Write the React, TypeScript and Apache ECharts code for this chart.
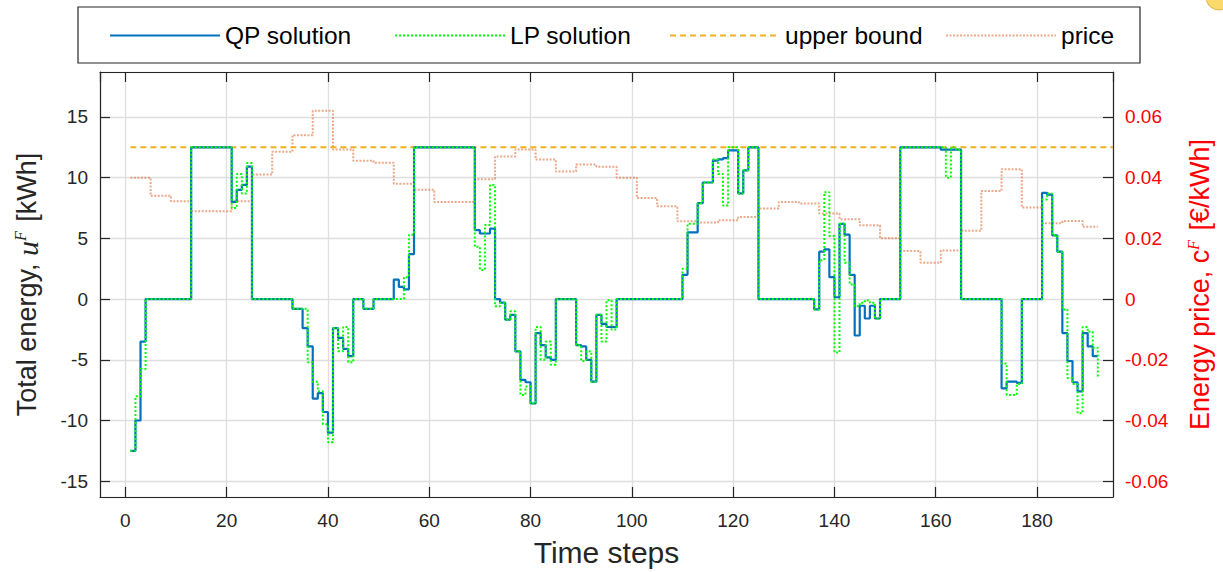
import React, { useEffect, useRef } from "react";
import * as echarts from "echarts";

// QP solution, time steps 1..192 [kWh]
const qpSolution = [
  -12.5, -10, -3.5, 0, 0, 0, 0, 0, 0, 0, 0, 0,
  12.5, 12.5, 12.5, 12.5, 12.5, 12.5, 12.5, 12.5,
  8.0, 9.0, 9.4, 10.9,
  0, 0, 0, 0, 0, 0, 0, 0,
  -0.8, -0.8, -2.4, -3.9, -8.2, -7.75, -9.3, -11.0, -2.4, -3.2, -4.1, -4.7,
  0, 0, -0.8, -0.8,
  0, 0, 0, 0,
  1.6, 1.0, 0.8, 3.7,
  12.5, 12.5, 12.5, 12.5, 12.5, 12.5, 12.5, 12.5, 12.5, 12.5, 12.5, 12.5,
  5.67, 5.4, 5.4, 5.8,
  0, -0.3, -1.7, -1.3, -4.3, -6.65, -6.85, -8.6, -2.8, -3.8, -4.8, -5.0,
  0, 0, 0, 0,
  -3.8, -3.9, -5.0, -6.8, -1.3, -2.05, -2.3, -2.3,
  0, 0, 0, 0, 0, 0, 0, 0, 0, 0, 0, 0, 0,
  2.0, 5.5, 5.5, 7.9, 9.6, 9.6, 11.4, 11.5, 11.6, 12.25, 12.25, 8.7, 10.6, 12.5, 12.5,
  0, 0, 0, 0, 0, 0, 0, 0, 0, 0, 0,
  -0.85, 3.9, 4.1, 1.8, 0.15, 6.2, 5.3, 2.0, -3.0, -0.55, -1.6, -0.55, -1.6,
  0, 0, 0, 0,
  12.5, 12.5, 12.5, 12.5, 12.5, 12.5, 12.5, 12.5,
  12.3, 12.3, 12.3, 12.3,
  0, 0, 0, 0, 0, 0, 0, 0,
  -7.35, -6.8, -6.8, -6.9,
  0, 0, 0, 0,
  8.75, 8.6, 5.25, 3.9, -2.8, -5.1, -6.85, -7.6, -2.8, -3.9, -4.7, -4.7,
];

// LP solution, time steps 1..192 [kWh]
const lpSolution = [
  -12.5, -8.0, -5.75, 0, 0, 0, 0, 0, 0, 0, 0, 0,
  12.5, 12.5, 12.5, 12.5, 12.5, 12.5, 12.5, 12.5,
  7.5, 10.3, 8.7, 11.2,
  0, 0, 0, 0, 0, 0, 0, 0,
  -0.8, -0.8, -0.8, -5.2, -6.8, -7.6, -10.3, -11.8, -2.4, -4.3, -2.3, -5.2,
  0, 0, -0.8, -0.8,
  0, 0, 0, 0,
  0, 0, 1.8, 5.3,
  12.5, 12.5, 12.5, 12.5, 12.5, 12.5, 12.5, 12.5, 12.5, 12.5, 12.5, 12.5,
  4.3, 2.4, 6.1, 9.4,
  -0.6, -0.3, -1.7, -1.0, -4.3, -7.9, -7.2, -8.6, -2.3, -5.0, -3.5, -5.4,
  0, 0, 0, 0,
  -3.8, -5.1, -4.3, -6.8, -1.3, -3.5, -0.1, -2.5,
  0, 0, 0, 0, 0, 0, 0, 0, 0, 0, 0, 0, 0,
  2.5, 6.2, 6.2, 7.9, 9.6, 9.6, 11.5, 10.3, 7.7, 12.5, 12.5, 8.7, 10.6, 12.5, 12.5,
  0, 0, 0, 0, 0, 0, 0, 0, 0, 0, 0,
  -0.85, 3.2, 8.8, 5.2, -4.4, 6.2, 3.0, 1.2, -0.6, -0.3, -0.1, -0.3, -1.6,
  0, 0, 0, 0,
  12.5, 12.5, 12.5, 12.5, 12.5, 12.5, 12.5, 12.5,
  12.5, 10.0, 12.5, 12.3,
  0, 0, 0, 0, 0, 0, 0, 0,
  -5.3, -7.9, -7.9, -7.0,
  0, 0, 0, 0,
  8.2, 8.7, 5.25, 3.9, -0.85, -6.5, -7.0, -9.4, -2.3, -2.7, -4.0, -6.4,
];

// Hourly energy price (each value holds for 4 time steps) [€/kWh]
const hourlyPrice = [
  0.040, 0.034, 0.0322, 0.0289, 0.0289, 0.0322, 0.041, 0.0485,
  0.054, 0.062, 0.0493, 0.0456, 0.0449, 0.038, 0.036, 0.032,
  0.032, 0.0395, 0.047, 0.0493, 0.046, 0.042, 0.0443, 0.0436,
  0.040, 0.0333, 0.0306, 0.0256, 0.0252, 0.026, 0.027, 0.0298,
  0.032, 0.0315, 0.0282, 0.0263, 0.0243, 0.020, 0.0158, 0.012,
  0.016, 0.0225, 0.0356, 0.0428, 0.0302, 0.025, 0.0257, 0.0238,
];
const stepsPerHour = 4;
const lastStep = 192;

const upperBound = 12.5;
const upperBoundSpan = [1, 195];

const FONT = "'Liberation Sans', Arial, Helvetica, sans-serif";
const DARK = "#262626";

export default function App() {
  const ref = useRef<HTMLDivElement>(null);

  useEffect(() => {
    if (!ref.current) return;
    const chart = echarts.init(ref.current, undefined, { renderer: "svg" });

    const qpData = qpSolution.map((v, i) => [i + 1, v]);
    const lpData = lpSolution.map((v, i) => [i + 1, v]);
    const priceData: number[][] = hourlyPrice.map((p, i) => [1 + i * stepsPerHour, p]);
    priceData.push([lastStep, hourlyPrice[hourlyPrice.length - 1]]);
    const ubData = upperBoundSpan.map((x) => [x, upperBound]);

    const axisLine = { show: true, onZero: false, lineStyle: { color: DARK, width: 1.2 } };
    const tick = { show: true, inside: true, length: 10, lineStyle: { color: DARK, width: 1.2 } };

    const legendBase = {
      top: 18,
      itemWidth: 110,
      itemHeight: 14,
      itemStyle: { opacity: 0, borderWidth: 0 },
      textStyle: { fontSize: 24.5, color: "#000", fontFamily: FONT },
      z: 10,
    };

    const option = {
      animation: false,
      textStyle: { fontFamily: FONT },
      grid: { left: 100, right: 110, top: 72, bottom: 74, containLabel: false },
      graphic: [
        {
          type: "rect",
          z: 0,
          shape: { x: 78, y: 7, width: 1062, height: 56 },
          style: { fill: "#fff", stroke: DARK, lineWidth: 1.2 },
        },
        {
          type: "circle",
          z: 0,
          shape: { cx: 1219, cy: -3, r: 13 },
          style: { fill: "#FBD96A", stroke: "#E2B24A", lineWidth: 1 },
        },
      ],
      legend: [
        { ...legendBase, left: 104, data: ["QP solution"] },
        { ...legendBase, left: 389, data: ["LP solution"] },
        { ...legendBase, left: 664, data: ["upper bound"] },
        { ...legendBase, left: 940, data: ["price"] },
      ],
      xAxis: [
        {
          type: "value",
          position: "bottom",
          min: -5,
          max: 195,
          minInterval: 20,
          maxInterval: 20,
          axisLine,
          axisTick: tick,
          axisLabel: {
            color: DARK,
            fontSize: 19,
            fontFamily: FONT,
            margin: 14,
            showMinLabel: false,
            showMaxLabel: false,
          },
          splitLine: { show: true, lineStyle: { color: "#DEDEDE", width: 1.3 } },
          name: "Time steps",
          nameLocation: "middle",
          nameGap: 40,
          nameTextStyle: { fontSize: 30, color: DARK, fontFamily: FONT },
        },
        {
          type: "value",
          position: "top",
          min: -5,
          max: 195,
          minInterval: 20,
          maxInterval: 20,
          axisLine,
          axisTick: tick,
          axisLabel: { show: false },
          splitLine: { show: false },
        },
      ],
      yAxis: [
        {
          type: "value",
          position: "left",
          min: -16.3,
          max: 18.7,
          minInterval: 5,
          maxInterval: 5,
          axisLine,
          axisTick: tick,
          axisLabel: {
            color: DARK,
            fontSize: 19,
            fontFamily: FONT,
            margin: 12,
            showMinLabel: false,
            showMaxLabel: false,
          },
          splitLine: { show: true, lineStyle: { color: "#DEDEDE", width: 1.3 } },
          name: "{a|Total energy, }{u|u}{s|F}{a| [kWh]}",
          nameLocation: "middle",
          nameRotate: 90,
          nameGap: 58,
          nameTextStyle: {
            color: DARK,
            fontSize: 27,
            fontFamily: FONT,
            rich: {
              a: { fontSize: 27, color: DARK, fontFamily: FONT },
              u: { fontSize: 30, color: DARK, fontFamily: "'Liberation Serif', serif", fontStyle: "italic" },
              s: {
                fontSize: 16,
                color: DARK,
                fontFamily: "'Liberation Serif', serif",
                fontStyle: "italic",
                verticalAlign: "top",
                padding: [0, 2, 14, 0],
              },
            },
          },
        },
        {
          type: "value",
          position: "right",
          min: -0.0652,
          max: 0.0748,
          minInterval: 0.02,
          maxInterval: 0.02,
          axisLine,
          axisTick: tick,
          axisLabel: {
            color: "#FF0000",
            fontSize: 19,
            fontFamily: FONT,
            margin: 12,
            showMinLabel: false,
            showMaxLabel: false,
          },
          splitLine: { show: false },
          name: "{a|Energy price, c}{s|F}{a| [€/kWh]}",
          nameLocation: "middle",
          nameRotate: 90,
          nameGap: 72,
          nameTextStyle: {
            color: "#FF0000",
            fontSize: 27,
            fontFamily: FONT,
            rich: {
              a: { fontSize: 27, color: "#FF0000", fontFamily: FONT },
              s: {
                fontSize: 16,
                color: "#FF0000",
                fontFamily: "'Liberation Serif', serif",
                fontStyle: "italic",
                verticalAlign: "top",
                padding: [0, 2, 14, 0],
              },
            },
          },
        },
      ],
      series: [
        {
          name: "QP solution",
          type: "line",
          xAxisIndex: 0,
          yAxisIndex: 0,
          step: "end",
          data: qpData,
          showSymbol: false,
          symbol: "none",
          lineStyle: { color: "#0072BD", width: 2.2, type: "solid" },
          itemStyle: { color: "#0072BD" },
          z: 3,
        },
        {
          name: "LP solution",
          type: "line",
          xAxisIndex: 0,
          yAxisIndex: 0,
          step: "end",
          data: lpData,
          showSymbol: false,
          symbol: "none",
          lineStyle: { color: "#00FF00", width: 2, type: [2, 2] },
          itemStyle: { color: "#00FF00" },
          z: 4,
        },
        {
          name: "upper bound",
          type: "line",
          xAxisIndex: 0,
          yAxisIndex: 0,
          data: ubData,
          showSymbol: false,
          symbol: "none",
          lineStyle: { color: "#EDB120", width: 2, type: [6, 4] },
          itemStyle: { color: "#EDB120" },
          z: 2,
        },
        {
          name: "price",
          type: "line",
          xAxisIndex: 0,
          yAxisIndex: 1,
          step: "end",
          data: priceData,
          showSymbol: false,
          symbol: "none",
          lineStyle: { color: "rgba(217,83,25,0.5)", width: 2, type: [2, 1.5] },
          itemStyle: { color: "rgba(217,83,25,0.5)" },
          z: 1,
        },
      ],
    };

    chart.setOption(option as any);
    return () => chart.dispose();
  }, []);

  return (
    <div
      ref={ref}
      style={{ position: "fixed", left: 0, top: 0, width: 1223, height: 572, background: "#fff" }}
    />
  );
}
